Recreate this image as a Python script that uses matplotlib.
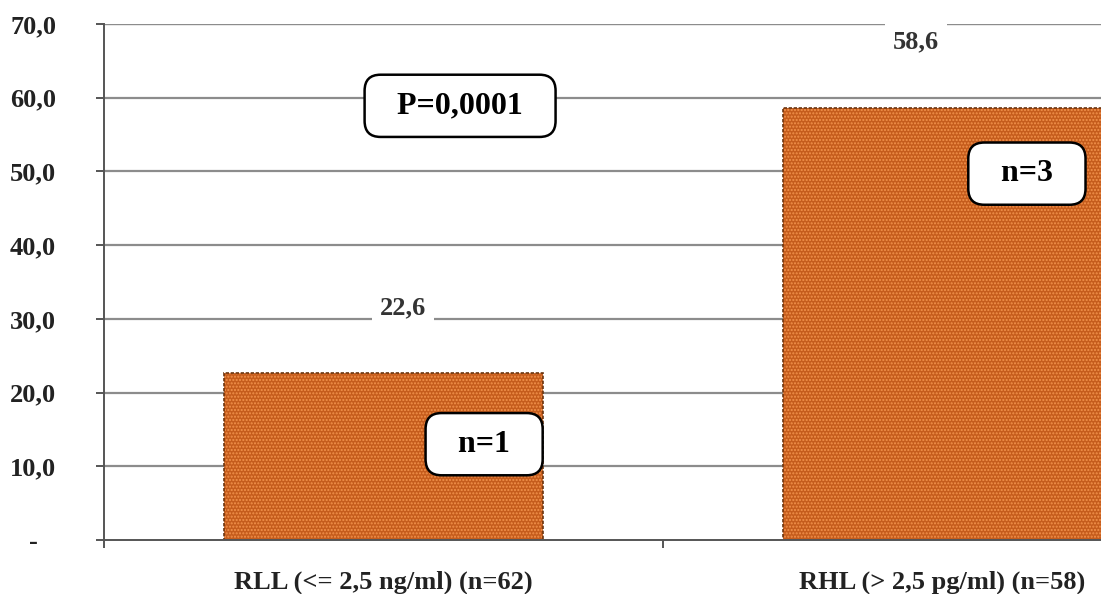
import matplotlib.pyplot as plt
from matplotlib.ticker import FixedLocator

# bar values and labels
groups = ["RLL (<= 2,5 ng/ml) (n=62)", "RHL (> 2,5 pg/ml) (n=58)"]
values = [22.6, 58.6]
value_labels = ["22,6", "58,6"]
yticks = [0, 10, 20, 30, 40, 50, 60, 70]
ytick_labels = ["-", "10,0", "20,0", "30,0", "40,0", "50,0", "60,0", "70,0"]
n_boxes = ["n=1", "n=3"]
p_text = "P=0,0001"

plt.rcParams['font.family'] = ['Liberation Serif', 'DejaVu Serif']
plt.rcParams['font.weight'] = 'bold'

W, H = 1101, 594
fig = plt.figure(figsize=(W / 100, H / 100), dpi=100)
# axes runs past the right edge of the figure, so the second bar is cut
ax = fig.add_axes([104 / W, (H - 540) / H, 1118 / W, 516 / H])

x = list(range(len(values)))
ax.bar(x, values, width=0.572, color='#C55C1C', edgecolor='#F2924C',
       hatch='.....', linewidth=0, zorder=3)
ax.bar(x, values, width=0.572, fill=False, edgecolor='#6b3510',
       linewidth=1.2, linestyle=(0, (2, 1)), zorder=4)

ax.set_xlim(-0.5, 1.5)
ax.set_ylim(0, 70)

# grid
ax.yaxis.set_major_locator(FixedLocator(yticks))
ax.set_yticklabels(ytick_labels, fontsize=19, color='#222222')
for t in yticks[1:]:
    ax.axhline(t, color='#8c8c8c', lw=1.6 if t < 70 else 1.0, zorder=1)

for s in ['top', 'right']:
    ax.spines[s].set_visible(False)
for s in ['left', 'bottom']:
    ax.spines[s].set_color('#555555')
    ax.spines[s].set_linewidth(1.4)
    ax.spines[s].set_zorder(5)

ax.tick_params(axis='y', length=6, width=1.4, color='#555555', pad=45)
for lab in ax.get_yticklabels():
    lab.set_horizontalalignment('center')

ax.set_xticks(x)
ax.set_xticklabels(groups, fontsize=19, color='#222222')
ax.tick_params(axis='x', which='major', length=0, pad=22)
ax.xaxis.set_minor_locator(FixedLocator([-0.5, 0.5, 1.5]))
ax.tick_params(axis='x', which='minor', length=6, width=1.4, color='#555555')

# value labels above bars
label_pos = [(0.035, 31.5), (0.953, 67.6)]
for (lx, ly), txt in zip(label_pos, value_labels):
    ax.text(lx, ly, txt, ha='center', va='center', fontsize=19, color='#333333',
            bbox=dict(boxstyle='square,pad=0.3', fc='white', ec='none'), zorder=6)

box = dict(boxstyle='round,pad=0.52,rounding_size=0.5', fc='white', ec='black', lw=1.8)
ax.text(0.18, 13.0, "  " + n_boxes[0] + "  ", ha='center', va='center', fontsize=23,
        bbox=box, zorder=7)
ax.text(1.151, 49.7, "  " + n_boxes[1] + "  ", ha='center', va='center', fontsize=23,
        bbox=box, zorder=7)
ax.text(0.137, 58.9, "  " + p_text + "  ", ha='center', va='center', fontsize=23,
        bbox=box, zorder=7)

fig.savefig('out.png', dpi=100)
